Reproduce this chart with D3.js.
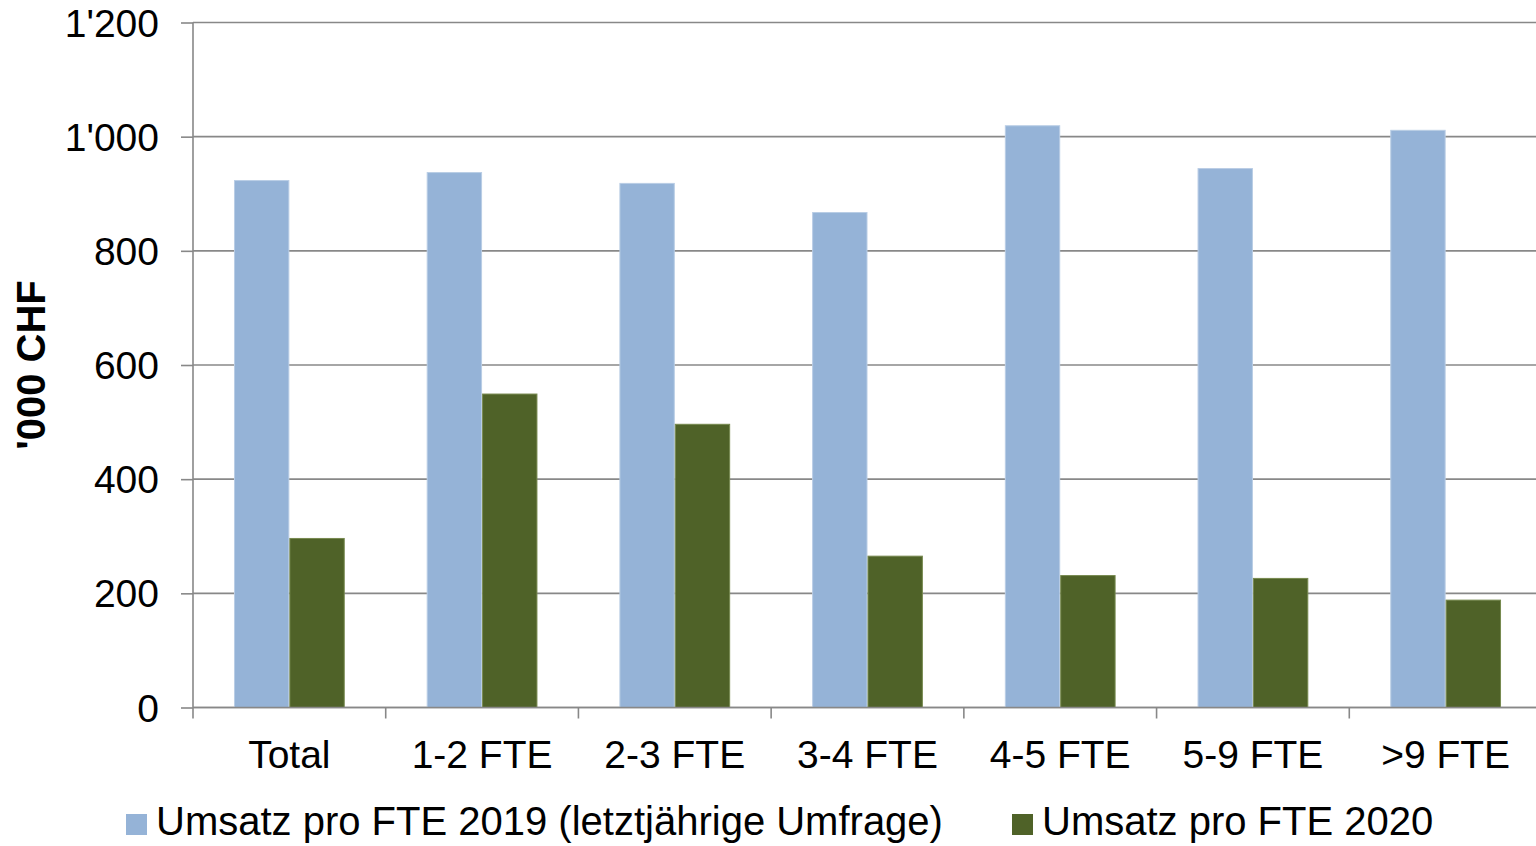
<!DOCTYPE html>
<html>
<head>
<meta charset="utf-8">
<script src="https://cdn.jsdelivr.net/npm/d3@7"></script>
<style>
  html, body { margin: 0; padding: 0; background: #fff; overflow: hidden; }
  svg { display: block; }
  text { font-family: "Liberation Sans", Arial, sans-serif; fill: #000; }
</style>
</head>
<body>
<svg id="chart" width="1536" height="846"></svg>
<script>
const categories = ["Total", "1-2 FTE", "2-3 FTE", "3-4 FTE", "4-5 FTE", "5-9 FTE", ">9 FTE"];
const seriesNames = ["Umsatz pro FTE 2019 (letztjährige Umfrage)", "Umsatz pro FTE 2020"];
const values2019 = [924, 938, 919, 868, 1020, 945, 1012];
const values2020 = [297, 550, 497, 266, 232, 227, 189];
const yTicks = [0, 200, 400, 600, 800, 1000, 1200];
const yTitle = "'000 CHF";
const colors = ["#95B3D7", "#4F6228"];
const strokes = ["#B9CDE5", "#77894F"];

const svg = d3.select("#chart");
const W = 1536, H = 846;
const margin = { left: 193, top: 22.5, bottom: 138.5 };
const plotRight = 1542;
const y0 = H - margin.bottom;

const x0 = d3.scaleBand().domain(categories).range([margin.left, plotRight]).padding(0);
const x1 = d3.scaleBand().domain([0, 1]).range([0, x0.bandwidth()]).paddingInner(0).paddingOuter(0.74);
const y = d3.scaleLinear().domain([0, 1200]).range([y0, margin.top]);

const loc = d3.formatLocale({ decimal: ".", thousands: "'", grouping: [3], currency: ["", ""] });
const fmt = loc.format(",d");

// y axis ticks + labels
const yAxis = d3.axisLeft(y).tickValues(yTicks).tickFormat(fmt).tickSize(12).tickPadding(22);
const gy = svg.append("g").attr("transform", `translate(${margin.left},0)`).call(yAxis);
gy.select(".domain").remove();
gy.selectAll(".tick line").attr("stroke", "#888").attr("stroke-width", 1.6);
gy.selectAll(".tick text").style("font-size", "39px").style("font-family", "'Liberation Sans', Arial, sans-serif").attr("fill", "#000").attr("dy", "0.35em");

// gridlines
svg.append("g").selectAll("line").data(yTicks).join("line")
  .attr("x1", margin.left).attr("x2", plotRight)
  .attr("y1", d => y(d)).attr("y2", d => y(d))
  .attr("stroke", "#888").attr("stroke-width", 1.6);

// bars
const data = categories.map((c, i) => ({ cat: c, vals: [values2019[i], values2020[i]] }));
const groups = svg.append("g").selectAll("g").data(data).join("g")
  .attr("transform", d => `translate(${x0(d.cat)},0)`);
groups.selectAll("rect").data(d => d.vals.map((v, k) => ({ v, k }))).join("rect")
  .attr("x", d => x1(d.k) + 0.5)
  .attr("width", x1.bandwidth() - 1)
  .attr("y", d => y(d.v) + 0.5)
  .attr("height", d => y0 - y(d.v) - 0.5)
  .attr("fill", d => colors[d.k])
  .attr("stroke", d => strokes[d.k])
  .attr("stroke-width", 1);

// y axis line
svg.append("line").attr("x1", margin.left).attr("x2", margin.left)
  .attr("y1", margin.top).attr("y2", y0)
  .attr("stroke", "#888").attr("stroke-width", 1.6);

// x axis
const gx = svg.append("g").attr("transform", `translate(0,${y0})`);
gx.append("line").attr("x1", margin.left).attr("x2", plotRight).attr("y1", 0).attr("y2", 0)
  .attr("stroke", "#888").attr("stroke-width", 1.6);
gx.selectAll("line.tk").data(categories).join("line").attr("class", "tk")
  .attr("x1", d => x0(d)).attr("x2", d => x0(d)).attr("y1", 0).attr("y2", 11)
  .attr("stroke", "#888").attr("stroke-width", 1.6);
gx.selectAll("text").data(categories).join("text")
  .attr("x", d => x0(d) + x0.bandwidth() / 2)
  .attr("y", 60)
  .attr("text-anchor", "middle")
  .style("font-size", "39px")
  .text(d => d);

// y title
svg.append("text")
  .attr("transform", `translate(45,${(margin.top + y0) / 2}) rotate(-90)`)
  .attr("text-anchor", "middle")
  .style("font-size", "40px").style("font-weight", "bold")
  .text(yTitle);

// legend
const legendX = [126, 1012];
const leg = svg.append("g").selectAll("g").data(seriesNames).join("g")
  .attr("transform", (d, i) => `translate(${legendX[i]},814)`);
leg.append("rect").attr("width", 21).attr("height", 21).attr("fill", (d, i) => colors[i]);
leg.append("text").attr("x", 30).attr("y", 21).style("font-size", "40px").text(d => d);
</script>
</body>
</html>
